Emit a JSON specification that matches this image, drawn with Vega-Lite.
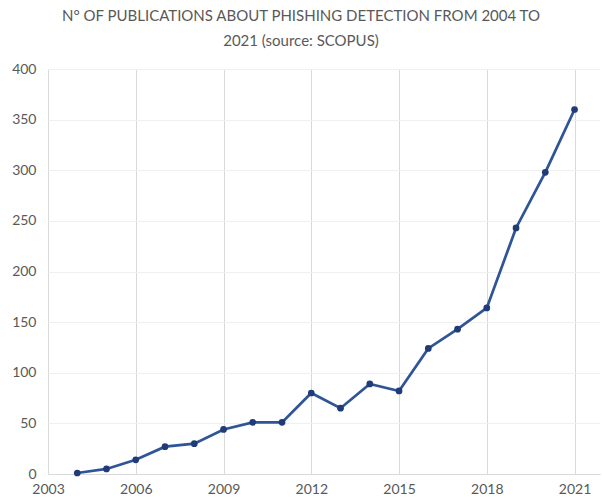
{
  "$schema": "https://vega.github.io/schema/vega-lite/v6.json",
  "autosize": "none",
  "width": 552,
  "height": 405,
  "padding": {"left": 48, "top": 69, "right": 2, "bottom": 25},
  "background": "white",
  "title": {
    "text": ["N° OF PUBLICATIONS ABOUT PHISHING DETECTION FROM 2004 TO", "2021 (source: SCOPUS)"],
    "font": "Lato",
    "fontSize": 15,
    "fontWeight": "normal",
    "color": "#595959",
    "anchor": "middle",
    "frame": "group",
    "dx": -23,
    "lineHeight": 25,
    "offset": 13
  },
  "config": {
    "view": {"stroke": null},
    "axis": {"labelFont": "Lato", "labelFontSize": 14, "labelColor": "#595959", "ticks": false, "domain": false, "titleFontSize": 0}
  },
  "data": {"values": [
    {"year": 2004, "n": 1},
    {"year": 2005, "n": 5},
    {"year": 2006, "n": 14},
    {"year": 2007, "n": 27},
    {"year": 2008, "n": 30},
    {"year": 2009, "n": 44},
    {"year": 2010, "n": 51},
    {"year": 2011, "n": 51},
    {"year": 2012, "n": 80},
    {"year": 2013, "n": 65},
    {"year": 2014, "n": 89},
    {"year": 2015, "n": 82},
    {"year": 2016, "n": 124},
    {"year": 2017, "n": 143},
    {"year": 2018, "n": 164},
    {"year": 2019, "n": 243},
    {"year": 2020, "n": 298},
    {"year": 2021, "n": 360}
  ]},
  "encoding": {
    "x": {"field": "year", "type": "quantitative", "title": null,
      "scale": {"domain": [2003, 2021.87], "nice": false, "zero": false},
      "axis": {"values": [2003, 2006, 2009, 2012, 2015, 2018, 2021], "format": "d", "grid": true, "gridColor": "#d9d9d9", "gridWidth": 1, "labelPadding": 8, "domain": true, "domainColor": "#d9d9d9", "labelFlush": false}},
    "y": {"field": "n", "type": "quantitative", "title": null,
      "scale": {"domain": [0, 400], "nice": false},
      "axis": {"values": [0, 50, 100, 150, 200, 250, 300, 350, 400], "grid": true, "gridColor": "#f0f0f0", "gridWidth": 1, "labelPadding": 12}}
  },
  "layer": [
    {"mark": {"type": "line", "color": "#2F5597", "strokeWidth": 2.75}},
    {"mark": {"type": "point", "filled": true, "color": "#1F3C78", "size": 45, "opacity": 1}}
  ]
}
